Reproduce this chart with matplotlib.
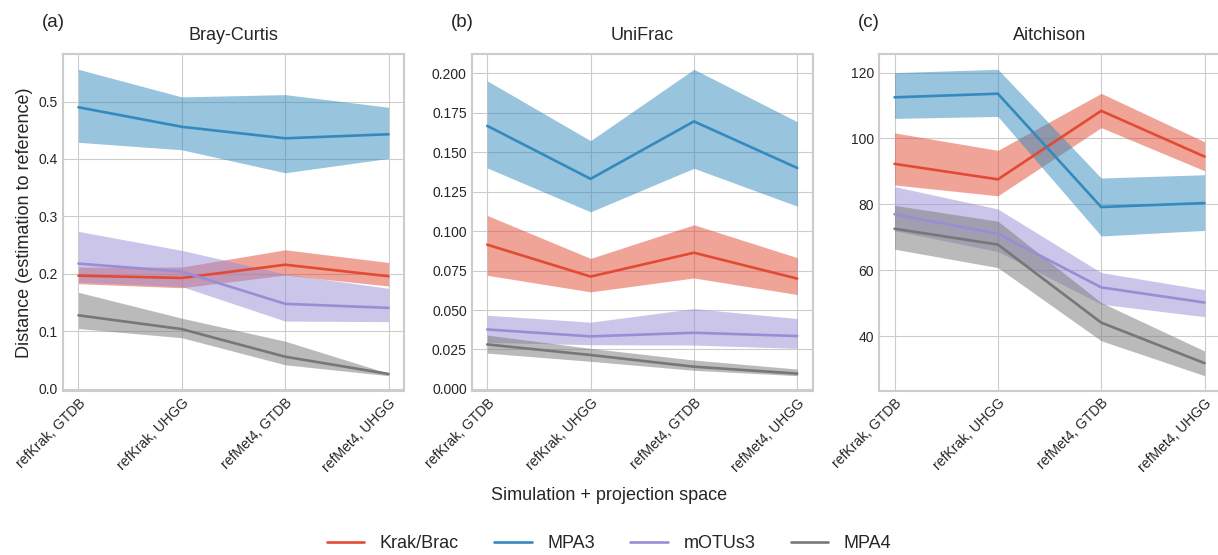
import matplotlib
matplotlib.use("Agg")
import matplotlib.pyplot as plt
import numpy as np

plt.style.use("seaborn-v0_8-whitegrid")
plt.rcParams["font.family"] = ["Liberation Sans", "DejaVu Sans"]

categories = ["refKrak, GTDB", "refKrak, UHGG", "refMet4, GTDB", "refMet4, UHGG"]
tools = ["Krak/Brac", "MPA3", "mOTUs3", "MPA4"]
colors = ["#E24A33", "#348ABD", "#988ED5", "#777777"]
panel_titles = ["Bray-Curtis", "UniFrac", "Aitchison"]
panel_tags = ["(a)", "(b)", "(c)"]

# Bray-Curtis: mean, lower, upper per tool
bc_mean = {
    "Krak/Brac": [0.197, 0.193, 0.216, 0.196],
    "MPA3": [0.490, 0.456, 0.436, 0.443],
    "mOTUs3": [0.218, 0.204, 0.148, 0.141],
    "MPA4": [0.128, 0.104, 0.056, 0.026],
}
bc_low = {
    "Krak/Brac": [0.183, 0.176, 0.198, 0.179],
    "MPA3": [0.429, 0.416, 0.376, 0.401],
    "mOTUs3": [0.186, 0.178, 0.118, 0.117],
    "MPA4": [0.105, 0.089, 0.042, 0.023],
}
bc_high = {
    "Krak/Brac": [0.212, 0.212, 0.242, 0.220],
    "MPA3": [0.556, 0.508, 0.512, 0.490],
    "mOTUs3": [0.274, 0.241, 0.200, 0.175],
    "MPA4": [0.168, 0.123, 0.083, 0.027],
}

# UniFrac
uf_mean = {
    "Krak/Brac": [0.0914, 0.0712, 0.0863, 0.0699],
    "MPA3": [0.1667, 0.1331, 0.1695, 0.1400],
    "mOTUs3": [0.0377, 0.0333, 0.0356, 0.0335],
    "MPA4": [0.0282, 0.0215, 0.0141, 0.0097],
}
uf_low = {
    "Krak/Brac": [0.0720, 0.0615, 0.0703, 0.0598],
    "MPA3": [0.1400, 0.1122, 0.1398, 0.1158],
    "mOTUs3": [0.0295, 0.0280, 0.0278, 0.0257],
    "MPA4": [0.0227, 0.0175, 0.0118, 0.0084],
}
uf_high = {
    "Krak/Brac": [0.1099, 0.0827, 0.1040, 0.0832],
    "MPA3": [0.1952, 0.1573, 0.2025, 0.1693],
    "mOTUs3": [0.0467, 0.0423, 0.0509, 0.0446],
    "MPA4": [0.0341, 0.0257, 0.0183, 0.0126],
}

# Aitchison
ai_mean = {
    "Krak/Brac": [92.3, 87.6, 108.4, 94.5],
    "MPA3": [112.5, 113.6, 79.2, 80.4],
    "mOTUs3": [77.0, 71.1, 54.8, 50.2],
    "MPA4": [72.6, 67.8, 44.1, 31.8],
}
ai_low = {
    "Krak/Brac": [85.9, 82.6, 103.3, 90.2],
    "MPA3": [106.1, 106.7, 70.4, 72.1],
    "mOTUs3": [72.0, 65.7, 49.7, 45.9],
    "MPA4": [66.4, 60.8, 38.6, 28.0],
}
ai_high = {
    "Krak/Brac": [101.7, 96.4, 113.7, 99.0],
    "MPA3": [120.0, 121.0, 88.0, 89.0],
    "mOTUs3": [85.4, 78.6, 59.3, 54.1],
    "MPA4": [79.7, 74.9, 50.2, 35.5],
}

panels = [
    (bc_mean, bc_low, bc_high),
    (uf_mean, uf_low, uf_high),
    (ai_mean, ai_low, ai_high),
]

fig = plt.figure(figsize=(12.18, 5.55), dpi=100)
lefts = [0.0517, 0.3873, 0.7217]
bottom, height, width = 0.2955, 0.6072, 0.280

x = np.arange(len(categories))
handles = []
for i, (means, lows, highs) in enumerate(panels):
    ax = fig.add_axes([lefts[i], bottom, width, height])
    for tool, c in zip(tools, colors):
        ax.fill_between(x, lows[tool], highs[tool], color=c, alpha=0.5, linewidth=0)
        (ln,) = ax.plot(x, means[tool], color=c, lw=1.9, label=tool)
        if i == 0:
            handles.append(ln)
    ax.set_xticks(x)
    ax.set_xticklabels(categories, rotation=45, ha="right", rotation_mode="anchor", fontsize=10)
    ax.tick_params(axis="y", labelsize=10)
    ax.set_title(panel_titles[i], fontsize=13, pad=10)
    ax.text(-0.062, 1.092, panel_tags[i], transform=ax.transAxes, fontsize=13.5,
            ha="left", va="center")
    for sp in ax.spines.values():
        sp.set_color("#cccccc")
        sp.set_linewidth(1.5)
    if i == 0:
        ax.set_ylabel("Distance (estimation to reference)", fontsize=13)

fig.text(0.5, 0.108, "Simulation + projection space", fontsize=13,
         ha="center", va="center", color="0.15")

fig.legend(handles=handles, labels=tools, loc="center", ncol=4,
           bbox_to_anchor=(0.5, 0.02), frameon=False, fontsize=13,
           handlelength=2.1, handletextpad=0.85, columnspacing=1.95)

fig.savefig("out.png", dpi=100)
